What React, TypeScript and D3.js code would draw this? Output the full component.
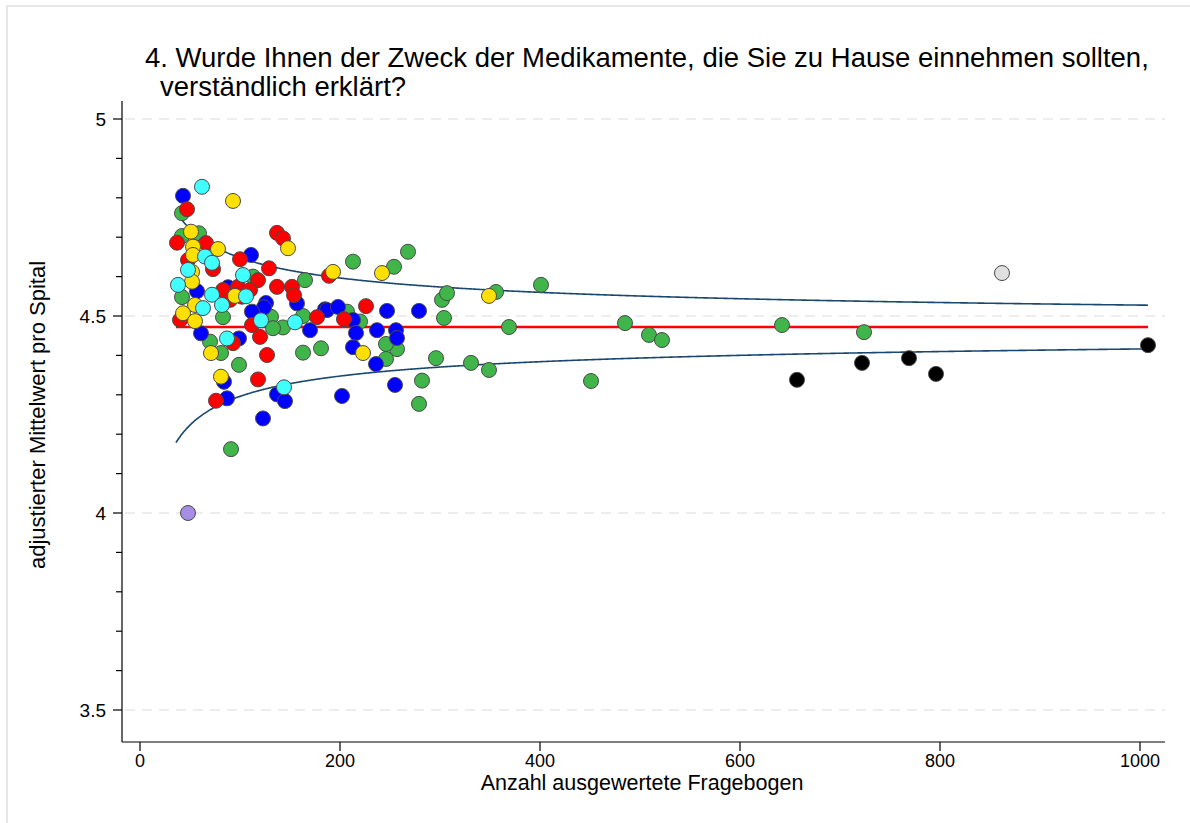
import React from "react";
import * as d3 from "d3";

const titleLines = [
  "4. Wurde Ihnen der Zweck der Medikamente, die Sie zu Hause einnehmen sollten,",
  "verständlich erklärt?",
];
const xTitle = "Anzahl ausgewertete Fragebogen";
const yTitle = "adjustierter Mittelwert pro Spital";
const xTicks = [0, 200, 400, 600, 800, 1000];
const yTicks = [3.5, 4, 4.5, 5];
const yMinorTicks = [3.6, 3.7, 3.8, 3.9, 4.1, 4.2, 4.3, 4.4, 4.6, 4.7, 4.8, 4.9];

const overallMean = 4.472;
const funnelSpread = 1.76;
const nMin = 36;
const nMax = 1008;

const greenHospitals: [number, number][] = [
  [42, 4.761], [42, 4.703], [59, 4.71], [42, 4.548], [83, 4.497], [70, 4.435],
  [81, 4.406], [99, 4.376], [91, 4.162], [113, 4.6], [165, 4.591], [131, 4.498],
  [143, 4.471], [133, 4.469], [163, 4.5], [163, 4.407], [181, 4.418], [213, 4.638],
  [254, 4.625], [268, 4.663], [207, 4.511], [220, 4.486], [246, 4.391], [257, 4.416],
  [246, 4.429], [282, 4.336], [279, 4.277], [296, 4.393], [302, 4.541], [307, 4.558],
  [304, 4.495], [331, 4.381], [349, 4.363], [356, 4.561], [369, 4.472], [401, 4.579],
  [451, 4.335], [485, 4.482], [509, 4.452], [522, 4.439], [642, 4.477], [724, 4.459],
];
const blueHospitals: [number, number][] = [
  [43, 4.805], [111, 4.655], [57, 4.563], [88, 4.573], [126, 4.533], [124, 4.522],
  [112, 4.511], [157, 4.532], [185, 4.517], [170, 4.464], [187, 4.515], [198, 4.523],
  [213, 4.49], [216, 4.457], [213, 4.421], [237, 4.464], [256, 4.464], [257, 4.444],
  [236, 4.378], [247, 4.513], [279, 4.513], [255, 4.325], [202, 4.297], [61, 4.456],
  [99, 4.443], [84, 4.333], [87, 4.291], [137, 4.301], [145, 4.284], [123, 4.24],
];
const redHospitals: [number, number][] = [
  [37, 4.686], [47, 4.771], [66, 4.685], [48, 4.642], [73, 4.619], [100, 4.644],
  [137, 4.711], [143, 4.697], [129, 4.621], [118, 4.591], [83, 4.566], [90, 4.541],
  [98, 4.574], [102, 4.549], [110, 4.566], [137, 4.574], [152, 4.574], [154, 4.553],
  [112, 4.477], [120, 4.447], [127, 4.401], [118, 4.339], [93, 4.431], [76, 4.285],
  [40, 4.49], [177, 4.497], [204, 4.492], [226, 4.525], [189, 4.602],
];
const yellowHospitals: [number, number][] = [
  [93, 4.792], [51, 4.714], [53, 4.676], [78, 4.67], [53, 4.655], [52, 4.612],
  [52, 4.587], [95, 4.551], [148, 4.672], [55, 4.528], [43, 4.507], [55, 4.487],
  [71, 4.406], [81, 4.346], [193, 4.612], [242, 4.609], [223, 4.406], [349, 4.551],
];
const cyanHospitals: [number, number][] = [
  [62, 4.828], [65, 4.651], [72, 4.635], [48, 4.617], [38, 4.579], [72, 4.554],
  [103, 4.604], [106, 4.55], [82, 4.528], [63, 4.52], [87, 4.443], [121, 4.489],
  [155, 4.484], [144, 4.319],
];
const blackHospitals: [number, number][] = [
  [657, 4.338], [722, 4.381], [769, 4.393], [796, 4.353], [1008, 4.426],
];
const grayHospitals: [number, number][] = [[862, 4.609]];
const purpleHospitals: [number, number][] = [[48, 4.0]];

const groups = [
  { data: greenHospitals, color: "#3fb54a" },
  { data: blueHospitals, color: "#0000ff" },
  { data: redHospitals, color: "#ff0000" },
  { data: yellowHospitals, color: "#ffe000" },
  { data: cyanHospitals, color: "#40ffff" },
  { data: blackHospitals, color: "#000000" },
  { data: grayHospitals, color: "#e0e0e0" },
  { data: purpleHospitals, color: "#a68de6" },
];

const FONT = "'Liberation Sans', Arial, sans-serif";

export default function App() {
  const x = d3.scaleLinear().domain([0, 1000]).range([140, 1140]);
  const y = d3.scaleLinear().domain([3.5, 5]).range([710, 119]);
  const axisLeft = 122;
  const axisBottom = 742;
  const plotTop = 101;
  const plotRight = 1165;

  const ns = d3.range(nMin, nMax + 1, 2);
  const line = d3
    .line<number>()
    .x((n) => x(n))
    .curve(d3.curveMonotoneX);
  const upper = line.y((n) => y(overallMean + funnelSpread / Math.sqrt(n)))(ns) || "";
  const lower = line.y((n) => y(overallMean - funnelSpread / Math.sqrt(n)))(ns) || "";

  return (
    <svg
      width={1190}
      height={823}
      style={{ position: "absolute", left: 0, top: 0, background: "#fff" }}
      fontFamily={FONT}
    >
      <rect x={0} y={0} width={1190} height={823} fill="#ffffff" />
      <rect x={7} y={6} width={1300} height={900} fill="none" stroke="#e6e6e6" strokeWidth={2} />

      {titleLines.map((t, i) => (
        <text key={i} x={i === 0 ? 145 : 160} y={67 + i * 29} fontSize={27.5} fill="#000">
          {t}
        </text>
      ))}

      {yTicks.map((t) => (
        <line
          key={"g" + t}
          x1={axisLeft + 3}
          x2={plotRight}
          y1={y(t)}
          y2={y(t)}
          stroke="#dcdcdc"
          strokeWidth={1.2}
          strokeDasharray="10,7"
        />
      ))}

      <line x1={axisLeft} x2={axisLeft} y1={plotTop} y2={axisBottom} stroke="#000" strokeWidth={1.2} />
      <line x1={axisLeft} x2={plotRight} y1={axisBottom} y2={axisBottom} stroke="#000" strokeWidth={1.2} />

      {yTicks.map((t) => (
        <g key={"yt" + t}>
          <line x1={axisLeft - 9} x2={axisLeft} y1={y(t)} y2={y(t)} stroke="#000" strokeWidth={1.2} />
          <text x={106} y={y(t) + 7} fontSize={19} textAnchor="end">
            {t}
          </text>
        </g>
      ))}
      {yMinorTicks.map((t) => (
        <line key={"ym" + t} x1={axisLeft - 6} x2={axisLeft} y1={y(t)} y2={y(t)} stroke="#000" strokeWidth={1.2} />
      ))}
      {xTicks.map((t) => (
        <g key={"xt" + t}>
          <line x1={x(t)} x2={x(t)} y1={axisBottom} y2={axisBottom + 9} stroke="#000" strokeWidth={1.2} />
          <text x={x(t)} y={axisBottom + 25} fontSize={18} textAnchor="middle">
            {t}
          </text>
        </g>
      ))}

      <text x={642} y={790} fontSize={21.5} textAnchor="middle">
        {xTitle}
      </text>
      <text
        transform={`translate(45, 415) rotate(-90)`}
        fontSize={22}
        textAnchor="middle"
      >
        {yTitle}
      </text>

      <path d={upper} fill="none" stroke="#1a476f" strokeWidth={1.6} />
      <path d={lower} fill="none" stroke="#1a476f" strokeWidth={1.6} />
      <line
        x1={x(nMin)}
        x2={x(nMax)}
        y1={y(overallMean)}
        y2={y(overallMean)}
        stroke="#ff0000"
        strokeWidth={2.6}
      />

      {groups.map((g, gi) =>
        g.data.map((d, i) => (
          <circle
            key={gi + "-" + i}
            cx={x(d[0])}
            cy={y(d[1])}
            r={7.5}
            fill={g.color}
            stroke="#4a4a4a"
            strokeWidth={1}
          />
        ))
      )}
    </svg>
  );
}
